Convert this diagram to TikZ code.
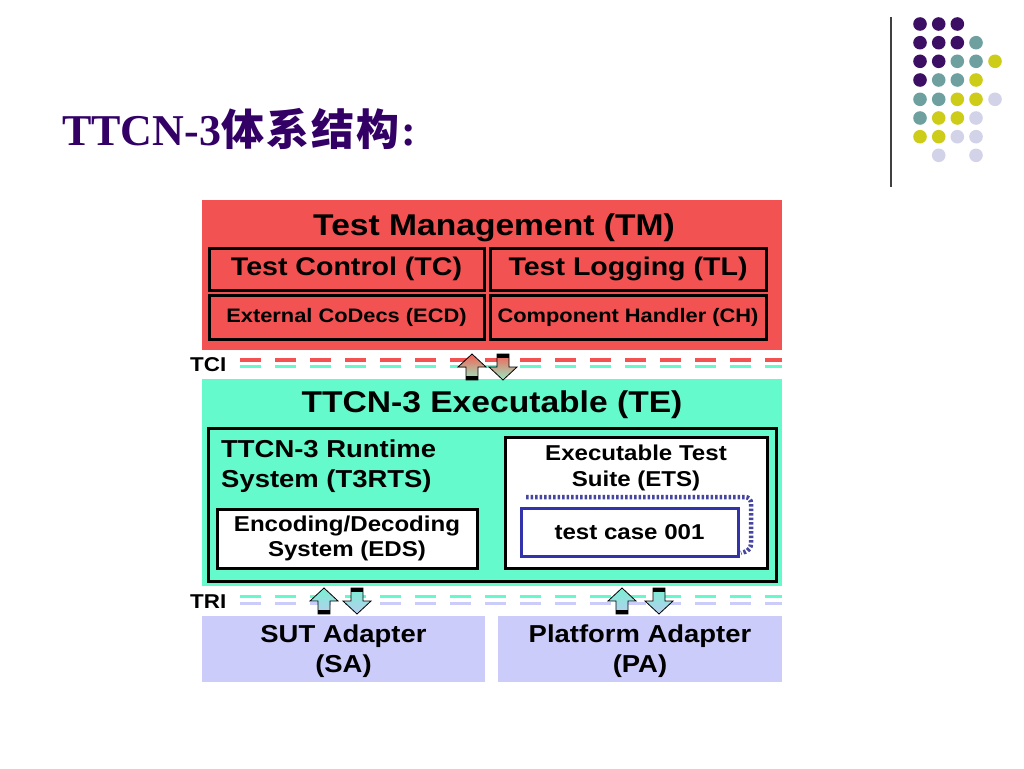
\documentclass[tikz,border=0pt]{standalone}
\usepackage{fontspec}
\setmainfont{Liberation Serif}
\newfontfamily\diagfont[FakeStretch=1.12]{Liberation Sans}
\newfontfamily\cjk{Noto Sans CJK SC}
\definecolor{title purple}{RGB}{51,0,102}
\definecolor{tm red}{RGB}{242,82,82}
\definecolor{te green}{RGB}{100,250,204}
\definecolor{adapter lavender}{RGB}{204,204,250}
\definecolor{dot purple}{RGB}{60,15,100}
\definecolor{dot teal}{RGB}{110,160,160}
\definecolor{dot yellow}{RGB}{205,205,25}
\definecolor{dot lavender}{RGB}{210,210,232}
\definecolor{case blue}{RGB}{50,50,170}
\definecolor{shadow blue}{RGB}{70,70,160}
\tikzset{
    x={1pt},
    y={-1pt},
    layer box/.style={
        fill={#1},
        draw=none,
        anchor=north west,
        inner sep=0pt,
        outer sep=0pt,
    },
    part box/.style={
        fill={#1},
        draw=black,
        line width={3pt},
        anchor=north west,
        inner sep=0pt,
        outer sep=0pt,
    },
    part box/.default={none},
    box label/.style={
        font={\diagfont\bfseries\fontsize{#1}{\fpeval{#1*1.2}}\selectfont},
        align=center,
        inner sep=0pt,
    },
    interface label/.style={
        font={\diagfont\bfseries\fontsize{20}{24}\selectfont},
        anchor=west,
        inner sep=0pt,
    },
    interface line/.style={
        draw={#1},
        line width={4pt},
        dash pattern=on 21pt off 14pt,
    },
    arrow tci/.style={
        draw=black, line width={0.8pt},
        top color={rgb,255:red,245;green,95;blue,85},
        bottom color={rgb,255:red,150;green,235;blue,195},
    },
    arrow tri/.style={
        draw=black, line width={0.8pt},
        top color={rgb,255:red,120;green,240;blue,210},
        bottom color={rgb,255:red,185;green,205;blue,240},
    },
    up arrow/.pic={
        \path[pic actions] (-6,13) -- (-6,0) -- (-14,0) -- (0,-13) -- (14,0) -- (6,0) -- (6,13) -- cycle;
        \fill[black] (-6,9) rectangle (6,13);
    },
    down arrow/.pic={
        \path[pic actions] (-6,-13) -- (-6,0) -- (-14,0) -- (0,13) -- (14,0) -- (6,0) -- (6,-13) -- cycle;
        \fill[black] (-6,-13) rectangle (6,-9);
    },
    corner dot/.style={
        fill={#1},
    },
}

\begin{document}
\begin{tikzpicture}
\useasboundingbox[fill=white] (0,0) rectangle (1024,768);
% title
\node[anchor=base west, inner sep=0pt, text=title purple, font={\bfseries\fontsize{44}{48}\selectfont}] (title) at (62,145) {TTCN-3{\cjk\fontsize{43}{46}\selectfont 体\kern2pt 系\kern2pt 结\kern2pt 构}\kern2pt:};
% corner decoration
\draw[line width={1.5pt}, black!75] (891,17) -- (891,187);
\fill[corner dot={dot purple}] (920,24) circle (6.8) (938.7,24) circle (6.8) (957.3,24) circle (6.8) (920,42.7) circle (6.8) (938.7,42.7) circle (6.8) (957.3,42.7) circle (6.8) (920,61.3) circle (6.8) (938.7,61.3) circle (6.8) (920,80) circle (6.8);
\fill[corner dot={dot teal}] (976,42.7) circle (6.8) (957.3,61.3) circle (6.8) (976,61.3) circle (6.8) (938.7,80) circle (6.8) (957.3,80) circle (6.8) (920,99.3) circle (6.8) (938.7,99.3) circle (6.8) (920,118) circle (6.8);
\fill[corner dot={dot yellow}] (995,61.3) circle (6.8) (976,80) circle (6.8) (957.3,99.3) circle (6.8) (976,99.3) circle (6.8) (938.7,118) circle (6.8) (957.3,118) circle (6.8) (920,136.7) circle (6.8) (938.7,136.7) circle (6.8);
\fill[corner dot={dot lavender}] (995,99.3) circle (6.8) (976,118) circle (6.8) (957.3,136.7) circle (6.8) (976,136.7) circle (6.8) (938.7,155.3) circle (6.8) (976,155.3) circle (6.8);
% test management
\node[layer box={tm red}, minimum width={580}, minimum height={150}] (tm) at (202,200) {};
\node[box label=30] (tm label) at (494,228) {Test Management (TM)};
\node[part box, minimum width={275}, minimum height={42}] (tc) at (209,248) {};
\node[box label=25.5] at (tc.center) {Test Control (TC)};
\node[part box, minimum width={276}, minimum height={42}] (tl) at (490,248) {};
\node[box label=25.5] at (tl.center) {Test Logging (TL)};
\node[part box, minimum width={275}, minimum height={44}] (ecd) at (209,295) {};
\node[box label=19.5] at (ecd.center) {External CoDecs (ECD)};
\node[part box, minimum width={276}, minimum height={44}] (ch) at (490,295) {};
\node[box label=19.5] at (ch.center) {Component Handler (CH)};
% TCI
\node[interface label] (tci) at (190,365) {TCI};
\draw[interface line={tm red}] (240,360) -- (782,360);
\draw[interface line={te green}, line width={3pt}] (240,366) -- (782,366);
% TTCN-3 executable
\node[layer box={te green}, minimum width={580}, minimum height={207}] (te) at (202,379) {};
\node[box label=30] (te label) at (492,405) {TTCN-3 Executable (TE)};
\node[part box, minimum width={568}, minimum height={153}] (t3rts) at (208,428) {};
\node[box label=24.5, align=left, anchor=north west] (t3rts label) at (221,440) {TTCN-3 Runtime\\System (T3RTS)};
\node[part box=white, minimum width={260}, minimum height={59}] (eds) at (217,509) {};
\node[box label=21.5] at (eds.center) {Encoding/Decoding\\System (EDS)};
\node[part box=white, minimum width={262}, minimum height={131}] (ets) at (505,437) {};
\node[box label=21.5, anchor=north] (ets label) at (636,445) {Executable Test\\Suite (ETS)};
\draw[shadow blue, line width={4.5pt}, dash pattern=on 2.5pt off 2pt, rounded corners={6pt}] (526,497) -| (751,550) -- (741,553);
\node[part box=white, draw=case blue, minimum width={217}, minimum height={48}] (case) at (521,508) {};
\node[box label=21.5] at (case.center) {test case 001};
\pic[arrow tci] (tci up) at (472,367) {up arrow};
\pic[arrow tci] (tci down) at (503,367) {down arrow};
% TRI
\node[interface label] (tri) at (190,602) {TRI};
\draw[interface line={te green}, line width={3pt}] (240,596) -- (782,596);
\draw[interface line={adapter lavender}, line width={3pt}] (240,603) -- (782,603);
% adapters
\node[layer box={adapter lavender}, minimum width={283}, minimum height={66}] (sa) at (202,616) {};
\node[box label=24.5, yshift=-2] at (sa.center) {SUT Adapter\\(SA)};
\node[layer box={adapter lavender}, minimum width={284}, minimum height={66}] (pa) at (498,616) {};
\node[box label=24.5, yshift=-2] at (pa.center) {Platform Adapter\\(PA)};
\pic[arrow tri] (sa up) at (324,601) {up arrow};
\pic[arrow tri] (sa down) at (357,601) {down arrow};
\pic[arrow tri] (pa up) at (622,601) {up arrow};
\pic[arrow tri] (pa down) at (659,601) {down arrow};
\end{tikzpicture}
\end{document}
